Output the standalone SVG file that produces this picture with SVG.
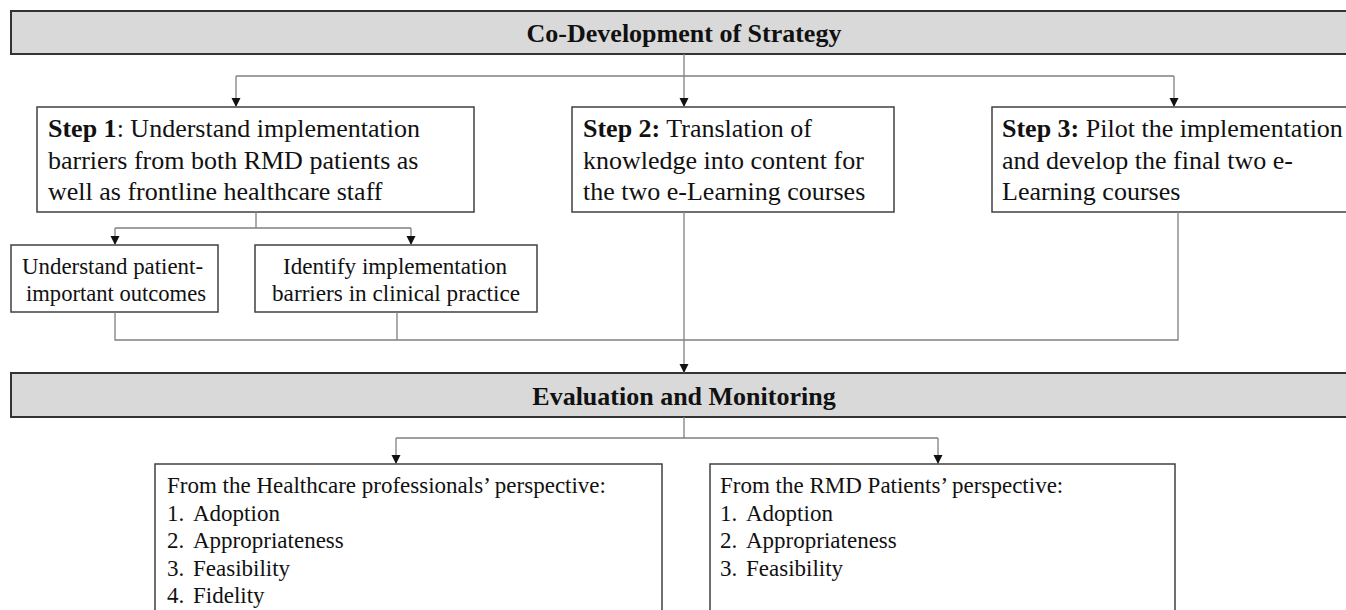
<svg xmlns="http://www.w3.org/2000/svg" width="1346" height="610" viewBox="0 0 1346 610">
<style>
text{font-family:"Liberation Serif","Times New Roman",serif;fill:#111}
.banner{fill:#d9d9d9;stroke:#333;stroke-width:2}
.box{fill:#fff;stroke:#404040;stroke-width:1.5}
.t26{font-size:26px}
.t24{font-size:24px}
.t23{font-size:23px}
.b{font-weight:bold}
.title{font-size:26px;font-weight:bold;text-anchor:middle}
.conn{fill:none;stroke:#808080;stroke-width:1.3}
</style>
<defs>
<marker id="arr" markerUnits="userSpaceOnUse" markerWidth="10" markerHeight="10" refX="9" refY="4.5" orient="auto" viewBox="0 0 10 9">
<path d="M0,0 L9,4.5 L0,9 Z" fill="#111"/>
</marker>
</defs>
<rect width="1346" height="610" fill="#fff"/>

<g id="co-development">
<rect class="banner" x="11" y="11" width="1350" height="43"/>
<text class="title" x="684" y="42">Co-Development of Strategy</text>
</g>

<g id="step1">
<rect class="box" x="37" y="107" width="437" height="105"/>
<text class="t26" x="48" y="137"><tspan class="b">Step 1</tspan>: Understand implementation</text>
<text class="t26" x="48" y="168.5">barriers from both RMD patients as</text>
<text class="t26" x="48" y="200">well as frontline healthcare staff</text>
</g>

<g id="step2">
<rect class="box" x="572" y="107" width="322" height="105"/>
<text class="t26" x="583" y="137"><tspan class="b">Step 2:</tspan> Translation of</text>
<text class="t26" x="583" y="168.5">knowledge into content for</text>
<text class="t26" x="583" y="200">the two e-Learning courses</text>
</g>

<g id="step3">
<rect class="box" x="992" y="107" width="370" height="105"/>
<text class="t26" x="1002" y="137"><tspan class="b">Step 3:</tspan> Pilot the implementation</text>
<text class="t26" x="1002" y="168.5">and develop the final two e-</text>
<text class="t26" x="1002" y="200">Learning courses</text>
</g>

<g id="sub-outcomes">
<rect class="box" x="11" y="245" width="207" height="67"/>
<text class="t24" x="22" y="274" textLength="181" lengthAdjust="spacingAndGlyphs">Understand patient-</text>
<text class="t24" x="26" y="301" textLength="180" lengthAdjust="spacingAndGlyphs">important outcomes</text>
</g>

<g id="sub-barriers">
<rect class="box" x="255" y="245" width="282" height="67"/>
<text class="t24" x="283" y="274" textLength="224" lengthAdjust="spacingAndGlyphs">Identify implementation</text>
<text class="t24" x="272" y="301" textLength="248" lengthAdjust="spacingAndGlyphs">barriers in clinical practice</text>
</g>

<g id="evaluation">
<rect class="banner" x="11" y="373" width="1350" height="44"/>
<text class="title" x="684" y="405">Evaluation and Monitoring</text>
</g>

<g id="hcp-perspective">
<rect class="box" x="155" y="464" width="507" height="160"/>
<text class="t23" x="167" y="493">From the Healthcare professionals’ perspective:</text>
<text class="t23" x="167" y="521">1.</text><text class="t23" x="193" y="521">Adoption</text>
<text class="t23" x="167" y="548">2.</text><text class="t23" x="193" y="548">Appropriateness</text>
<text class="t23" x="167" y="576">3.</text><text class="t23" x="193" y="576">Feasibility</text>
<text class="t23" x="167" y="603">4.</text><text class="t23" x="193" y="603">Fidelity</text>
</g>

<g id="patient-perspective">
<rect class="box" x="710" y="464" width="465" height="160"/>
<text class="t23" x="720" y="493">From the RMD Patients’ perspective:</text>
<text class="t23" x="720" y="521">1.</text><text class="t23" x="746" y="521">Adoption</text>
<text class="t23" x="720" y="548">2.</text><text class="t23" x="746" y="548">Appropriateness</text>
<text class="t23" x="720" y="576">3.</text><text class="t23" x="746" y="576">Feasibility</text>
</g>

<g id="connectors">
<path class="conn" d="M684,54 V76 M236,76 H1174"/>
<path class="conn" d="M236,76 V107" marker-end="url(#arr)"/>
<path class="conn" d="M684,76 V107" marker-end="url(#arr)"/>
<path class="conn" d="M1174,76 V107" marker-end="url(#arr)"/>
<path class="conn" d="M256,212 V228 M115,228 H411"/>
<path class="conn" d="M115,228 V245" marker-end="url(#arr)"/>
<path class="conn" d="M411,228 V245" marker-end="url(#arr)"/>
<path class="conn" d="M115,312 V340 H1178 V212 M397,312 V340"/>
<path class="conn" d="M684,212 V373" marker-end="url(#arr)"/>
<path class="conn" d="M684,417 V438 M396,438 H938"/>
<path class="conn" d="M396,438 V464" marker-end="url(#arr)"/>
<path class="conn" d="M938,438 V464" marker-end="url(#arr)"/>
</g>
</svg>
